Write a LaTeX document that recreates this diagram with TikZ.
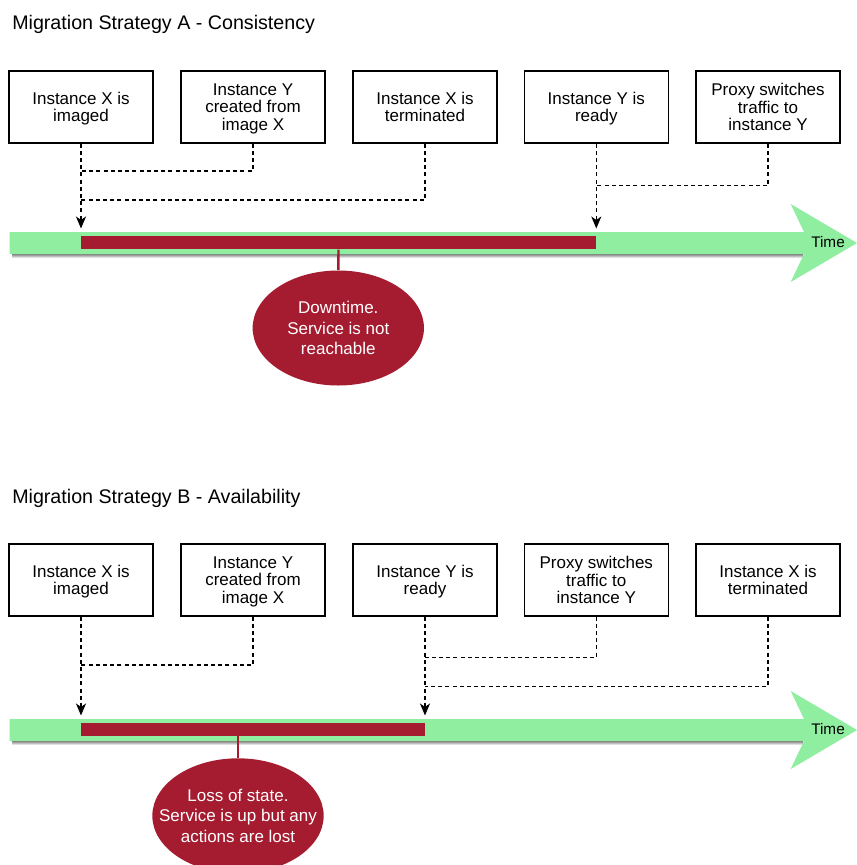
\documentclass[tikz,border=0pt]{standalone}
\usepackage{fontspec}
\setmainfont{Liberation Sans}
\usetikzlibrary{arrows.meta,shapes.geometric}

\definecolor{lane}{RGB}{144,238,160}
\definecolor{outage}{RGB}{165,28,48}
\definecolor{shade}{RGB}{192,192,192}

\tikzset{
  event/.style={draw=black, line width=0.9pt, fill=white,
    minimum width=108pt, minimum height=54pt, inner sep=0pt, text depth=0pt,
    align=center, font=\fontsize{12.75}{13.1}\selectfont},
  link/.style={draw=black, line width=0.95pt, dash pattern=on 3pt off 2.4pt},
  tolane/.style={link, -{Stealth[length=9pt,width=7.5pt,inset=2.6pt]}},
  outbar/.style={fill=outage, inner sep=0pt, minimum height=10.1pt},
  note/.style={ellipse, fill=outage, text=white,
    minimum width=128.5pt, minimum height=86.25pt,
    inner ysep=0pt, inner xsep=-20pt, text depth=0pt,
    align=center, font=\fontsize{12.75}{15.4}\selectfont},
  tick/.style={draw=outage, line width=1.8pt},
  heading/.style={anchor=base west, inner sep=0pt, font=\fontsize{14.75}{18}\selectfont},
  timelabel/.style={anchor=base west, inner sep=0pt, font=\fontsize{11.5}{13}\selectfont},
}

\begin{document}
\begin{tikzpicture}[x=0.75pt,y=-0.75pt]
\useasboundingbox (0,0) rectangle (857,865);
\clip (0,0) rectangle (857,865);
\fill[white] (0,0) rectangle (857,865);

% ---------------- Strategy A ----------------
\node[heading] (titleA) at (12,29) {Migration Strategy A - Consistency};

\node[event] (a1) at (81,107)    {Instance X is\\imaged};
\node[event] (a2) at (253,107)   {Instance Y\\created from\\image X};
\node[event] (a3) at (425,107)   {Instance X is\\terminated};
\node[event] (a4) at (596.3,107) {Instance Y is\\ready};
\node[event] (a5) at (768,107)   {Proxy switches\\traffic to\\instance Y};

% time axis
\fill[shade] (12,254) rectangle (803,258);
\fill[lane] (9.5,232) -- (804,232) -- (790.7,204) -- (857,243)
  -- (790.7,282) -- (804,254) -- (9.5,254) -- cycle;
\node[timelabel] (timeA) at (811,247.7) {Time};
\node[outbar, minimum width=386.25pt] (barA) at (338.5,242.6) {};

% event links
\coordinate (tA1) at (81,228.5);
\coordinate (jA2) at (81,171);
\coordinate (jA3) at (81,200);
\coordinate (tA4) at (596.3,228.5);
\coordinate (jA5) at (596.3,185.7);
\draw[tolane] (a1.south) -- (tA1);
\draw[link] (a2.south) |- (jA2);
\draw[link] (a3.south) |- (jA3);
\draw[tolane] (a4.south) -- (tA4);
\draw[link] (a5.south) |- (jA5);

\node[note] (noteA) at (338.3,328) {Downtime.\\Service is not\\reachable};
\draw[tick] (barA.south) -- (noteA.north);

% ---------------- Strategy B ----------------
\node[heading] (titleB) at (12,503) {Migration Strategy B - Availability};

\node[event] (b1) at (81,580)    {Instance X is\\imaged};
\node[event] (b2) at (253,580)   {Instance Y\\created from\\image X};
\node[event] (b3) at (425,580)   {Instance Y is\\ready};
\node[event] (b4) at (596.3,580) {Proxy switches\\traffic to\\instance Y};
\node[event] (b5) at (768,580)   {Instance X is\\terminated};

% time axis
\fill[shade] (12,741) rectangle (803,745);
\fill[lane] (9.5,719) -- (804,719) -- (790.7,691) -- (857,730)
  -- (790.7,769) -- (804,741) -- (9.5,741) -- cycle;
\node[timelabel] (timeB) at (811,734.7) {Time};
\node[outbar, minimum width=258pt] (barB) at (253,729.4) {};

% event links
\coordinate (tB1) at (81,715.5);
\coordinate (jB2) at (81,665);
\coordinate (tB3) at (425,715.5);
\coordinate (jB4) at (425,657.7);
\coordinate (jB5) at (425,686.7);
\draw[tolane] (b1.south) -- (tB1);
\draw[link] (b2.south) |- (jB2);
\draw[tolane] (b3.south) -- (tB3);
\draw[link] (b4.south) |- (jB4);
\draw[link] (b5.south) |- (jB5);

\node[note] (noteB) at (238,815.8) {Loss of state.\\Service is up but any\\actions are lost};
\draw[tick] (noteB.north |- barB.south) -- (noteB.north);
\end{tikzpicture}
\end{document}
